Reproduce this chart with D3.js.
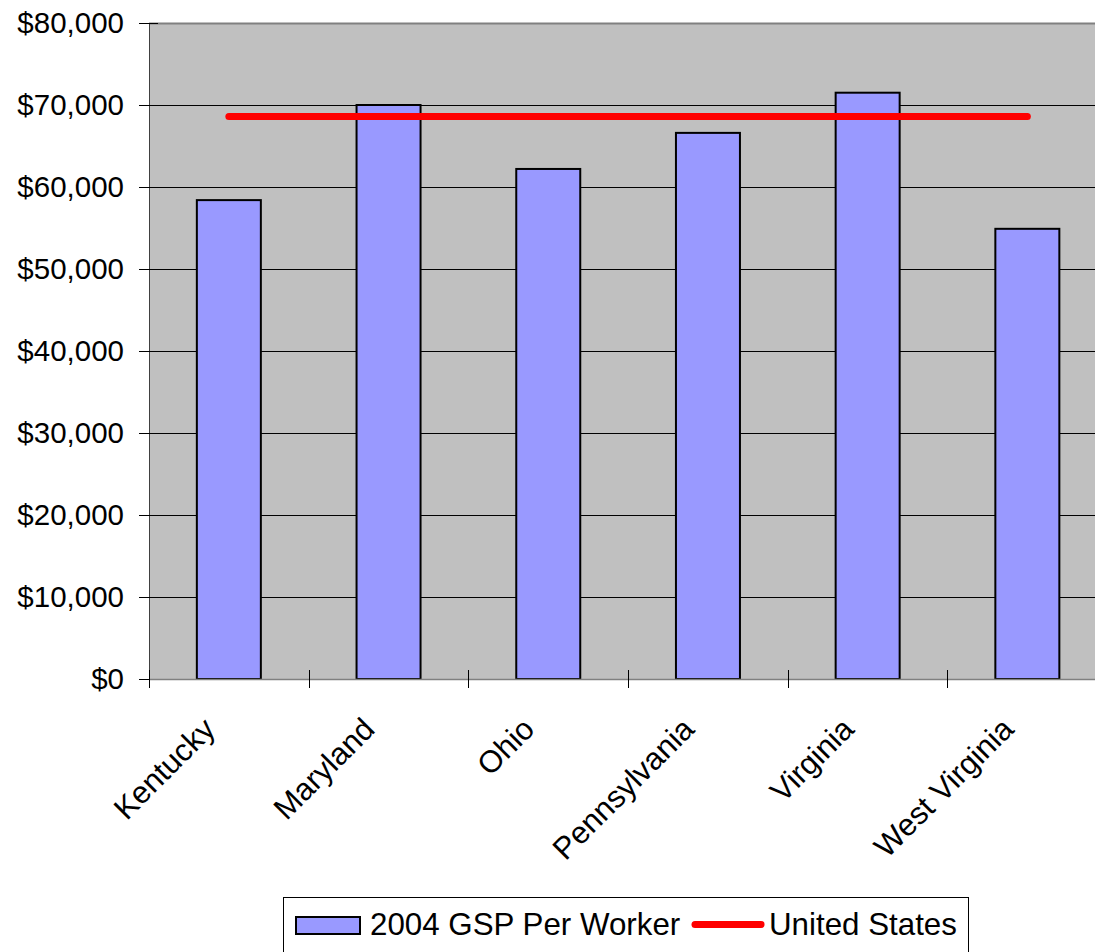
<!DOCTYPE html>
<html><head><meta charset="utf-8">
<script src="https://cdn.jsdelivr.net/npm/d3@7"></script>
<style>
html,body{margin:0;padding:0;background:#fff;overflow:hidden}
svg{display:block;font-family:"Liberation Sans",Arial,sans-serif}
</style></head>
<body>
<script>
const categories = ["Kentucky","Maryland","Ohio","Pennsylvania","Virginia","West Virginia"];
const gspPerWorker = [58400, 70000, 62200, 66600, 71500, 54900];
const usValue = 68600;
const yTicks = [0,10000,20000,30000,40000,50000,60000,70000,80000];
const seriesNames = ["2004 GSP Per Worker","United States"];

const W = 1095, H = 952;
const svg = d3.select("body").append("svg").attr("width", W).attr("height", H);

const pLeft = 149, pTop = 23, pBottom = 679, pRight = 149 + 6*159.7;
const xb = d3.scaleBand().domain(categories).range([pLeft, pRight]).padding(0);
const y = d3.scaleLinear().domain([0, 80000]).range([pBottom, pTop]);

// plot background
svg.append("rect").attr("x", pLeft).attr("y", pTop).attr("width", pRight-pLeft).attr("height", pBottom-pTop).attr("fill", "#c0c0c0");
svg.append("line").attr("x1", pLeft).attr("x2", pRight).attr("y1", pTop+0.5).attr("y2", pTop+0.5).attr("stroke", "#808080").attr("stroke-width", 2);

// gridlines
svg.append("g").selectAll("line").data(yTicks.slice(1, -1)).join("line")
  .attr("x1", pLeft).attr("x2", pRight)
  .attr("y1", d => Math.round(y(d))+0.5).attr("y2", d => Math.round(y(d))+0.5)
  .attr("stroke", "#000").attr("stroke-width", 1);

// y axis
const yAxis = d3.axisLeft(y).tickValues(yTicks).tickSizeInner(10).tickSizeOuter(0).tickPadding(15)
  .tickFormat(d => "$" + d3.format(",")(d));
const ya = svg.append("g").attr("transform", `translate(${pLeft},0)`).call(yAxis);
ya.select(".domain").attr("stroke", "#404040");
ya.selectAll(".tick line").attr("x1", -10).attr("x2", 9).attr("stroke", "#000");
ya.selectAll(".tick text").attr("font-size", 29.5).attr("fill", "#000").attr("font-family", "Liberation Sans, Arial, sans-serif").attr("dy", "0.32em");

// bars
svg.append("g").selectAll("rect").data(categories).join("rect")
  .attr("x", d => xb(d) + xb.bandwidth()/2 - 32)
  .attr("width", 64)
  .attr("y", (d,i) => y(gspPerWorker[i]))
  .attr("height", (d,i) => pBottom - y(gspPerWorker[i]))
  .attr("fill", "#9999ff").attr("stroke", "#000").attr("stroke-width", 2);

// x axis
svg.append("line").attr("x1", pLeft).attr("x2", pRight).attr("y1", pBottom+0.5).attr("y2", pBottom+0.5).attr("stroke", "#808080").attr("stroke-width", 1.5);
const boundaries = categories.map(c => xb(c)).concat([pRight]);
svg.append("g").selectAll("line").data(boundaries).join("line")
  .attr("x1", d => Math.round(d)+0.5).attr("x2", d => Math.round(d)+0.5)
  .attr("y1", pBottom-9).attr("y2", pBottom+9).attr("stroke", "#000");

svg.append("g").selectAll("text").data(categories).join("text")
  .attr("transform", d => `translate(${xb(d)+xb.bandwidth()/2-12},${pBottom+52}) rotate(-45)`)
  .attr("text-anchor", "end").attr("font-size", 31).attr("fill", "#000")
  .text(d => d);

// US line
const line = d3.line().x(d => xb(d)+xb.bandwidth()/2).y(() => y(usValue));
svg.append("path").datum(categories).attr("d", line)
  .attr("fill", "none").attr("stroke", "#ff0000").attr("stroke-width", 7).attr("stroke-linecap", "round");

// legend
const lg = svg.append("g");
lg.append("rect").attr("x", 283.5).attr("y", 897.5).attr("width", 685).attr("height", 70).attr("fill", "#fff").attr("stroke", "#000");
lg.append("rect").attr("x", 296).attr("y", 917).attr("width", 64).attr("height", 17).attr("fill", "#9999ff").attr("stroke", "#000").attr("stroke-width", 2);
lg.append("text").attr("x", 370).attr("y", 935).attr("font-size", 31.3).text(seriesNames[0]);
lg.append("line").attr("x1", 695).attr("x2", 761).attr("y1", 924.5).attr("y2", 924.5).attr("stroke", "#ff0000").attr("stroke-width", 7).attr("stroke-linecap", "round");
lg.append("text").attr("x", 769).attr("y", 935).attr("font-size", 31.3).text(seriesNames[1]);
</script>
</body></html>
